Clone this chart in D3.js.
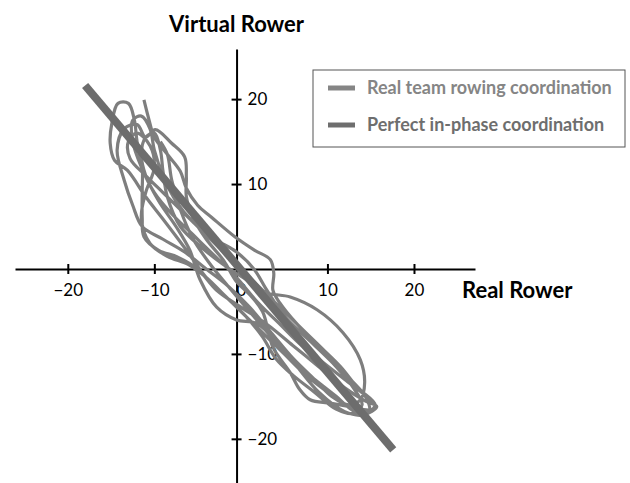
<!DOCTYPE html>
<html>
<head>
<meta charset="utf-8">
<script src="https://cdn.jsdelivr.net/npm/d3@7"></script>
<style>
  body { margin: 0; background: #fff; }
  text { font-family: Lato, "Open Sans", sans-serif; }
</style>
</head>
<body>
<div id="chart"></div>
<script>
// tick values on both axes
const xTicks = [-20, -10, 0, 10, 20];
const yTicks = [-20, -10, 10, 20];

// perfect in-phase line, end points (real, virtual)
const perfectLine = [[-18, 21.6], [17.6, -21.3]];

// real team trajectory (real rower, virtual rower)
const teamPath = [
  // stroke 1
  [-11.2, 19.9], [-10.6, 17.5], [-10, 15.5], [-8.5, 13.5], [-7, 11.5], [-6.3, 9.5], [-5, 7.5],
  [-3.4, 6.1], [-0.7, 3.8], [1.6, 2.2], [3.4, 1.1], [3.8, -0.5], [3.7, -2.5], [4.5, -4],
  [6.5, -6.5], [9, -9], [11.5, -11.5], [13.5, -14], [15.5, -16], [14.5, -17], [12.5, -16.3],
  [10, -14.5], [7.5, -12.5], [5, -10], [2, -7], [-1, -4], [-4, -1], [-6.5, 2.5], [-9.1, 6],
  [-11, 8.5], [-13.1, 11.6], [-14.6, 12.8], [-15.1, 14.8], [-14.9, 17.2], [-14.2, 19.5],
  [-13, 19.5], [-12.3, 17.5],
  // stroke 2
  [-12, 15], [-11.4, 12], [-11.4, 9.3], [-11.4, 6], [-11.2, 3.8], [-9.5, 2.2], [-7.3, 1.4],
  [-5, 0], [-2.8, -2.5], [0, -4.5], [3, -6.5], [6, -9], [9, -11.5], [12, -14], [14.3, -15.5],
  [15.7, -16.2], [14.1, -17.2], [12, -16.8],
  [9, -14.5], [6.5, -11.5], [4.5, -9], [1.8, -6.4], [-0.5, -6], [-2.8, -4.5], [-4.7, -1.3],
  [-5.9, 2.2], [-7.5, 5], [-9.5, 8], [-11, 11], [-11.5, 13.5], [-11, 15.5], [-10, 16], [-9.3, 14],
  // stroke 3
  [-9, 11.5], [-8.5, 8.5], [-7, 5], [-4.5, 2.5], [-2, 0.5], [1, -1.5], [3, -2.8], [5.7, -3.3],
  [8.8, -4.8], [11.8, -7.5], [13.8, -10.7], [14.3, -13.4], [13.8, -15.4], [12.5, -16], [10.5, -15],
  [8.5, -13], [6, -10.5], [3.5, -7.5], [1, -4.5], [-1.5, -2], [-4, 0], [-6.5, 2], [-9, 3.5],
  [-11.4, 5], [-12.5, 7.5], [-13.5, 10.5], [-14.3, 14], [-13.5, 16.5], [-12, 17], [-11, 15.5],
  // stroke 4
  [-9.9, 16.4], [-8, 14.8], [-6.5, 13.2], [-6.3, 10.8], [-6.3, 8.5], [-5.5, 6], [-4, 3.5],
  [-2, 1], [-0.5, -1.5], [1, -3], [2.5, -5], [3.7, -9.2], [5.7, -12.2], [6.8, -14.2], [8, -15.4],
  [10.3, -15.8], [12.6, -16.2], [14.9, -16.6], [15.5, -16.2], [14.5, -15], [12, -13],
  [9.5, -11], [7, -9], [4.5, -6.5], [2, -4], [-0.5, -1], [-3, 1.5], [-5.5, 4], [-8, 6.5],
  [-10, 9], [-11.5, 12], [-12.5, 15], [-12.5, 17.5], [-11.5, 18], [-10.5, 16.5],
  // stroke 5
  [-10, 14], [-9, 11], [-7.5, 8], [-5.5, 5.5], [-3, 3.5], [-0.5, 2], [1.5, 0], [3, -2.5],
  [5, -5.5], [8, -8.5], [11, -11.5], [13, -14], [14, -16], [13, -17], [11, -16.5],
  [8.5, -14.5], [6, -12.5], [4, -10.5], [2.5, -8], [0.5, -5.5], [-2, -3], [-4, -1], [-6, 0.5],
  [-8.5, 1.5], [-10.5, 3], [-11.5, 6], [-11, 9], [-10, 12], [-10.5, 14.5], [-12, 16], [-13, 15],
  // stroke 6
  [-12.8, 13], [-11, 11], [-9, 9], [-7, 7], [-4.5, 4.5], [-2, 2], [0.5, -0.5], [2.5, -2.5],
  [5, -5], [7.5, -7.5], [10, -10], [12.5, -12.8], [14.5, -15.2], [14.8, -16.8], [13.2, -16.8],
  [11, -15], [8.5, -13], [6, -11], [3.5, -8], [1, -5], [-1.5, -2], [-3.5, 0.5], [-5.5, 3.5],
  [-7, 7], [-8, 10.5], [-8.5, 13.5], [-9.3, 15]
];

const legendItems = [
  { label: "Real team rowing coordination", color: "#858585" },
  { label: "Perfect in-phase coordination", color: "#6e6e6e" }
];

const width = 630;
const height = 483;

const xScale = d3.scaleLinear().domain([-26.1, 27.05]).range([15, 475]);
const yScale = d3.scaleLinear().domain([25.9, -25.2]).range([49, 483]);

const svg = d3.select("#chart")
  .append("svg")
  .attr("width", width)
  .attr("height", height);

svg.append("rect").attr("width", width).attr("height", height).attr("fill", "#fff");

// y axis crosses a touch left of zero, as in the original figure
const yCross = -0.5;

const xAxis = svg.append("g")
  .attr("transform", `translate(0, ${yScale(0)})`)
  .call(d3.axisBottom(xScale).tickValues(xTicks).tickSizeInner(5).tickSizeOuter(0));

xAxis.select(".domain").attr("stroke", "#000").attr("stroke-width", 2);
xAxis.selectAll(".tick line").attr("y1", -5).attr("y2", 5).attr("stroke", "#000").attr("stroke-width", 2);
xAxis.selectAll(".tick text")
  .attr("y", 15)
  .attr("fill", "#000")
  .style("font-size", "17px");
xAxis.selectAll(".tick").filter(d => d === 0).select("line").remove();

const yAxis = svg.append("g")
  .attr("transform", `translate(${xScale(yCross)}, 0)`)
  .call(d3.axisRight(yScale).tickValues(yTicks).tickSizeInner(5).tickSizeOuter(0));

yAxis.select(".domain").attr("stroke", "#000").attr("stroke-width", 2);
yAxis.selectAll(".tick line").attr("x1", -5).attr("x2", 5).attr("stroke", "#000").attr("stroke-width", 2);
yAxis.selectAll(".tick text")
  .attr("x", 11)
  .attr("fill", "#000")
  .style("font-size", "17px");

// axis titles
svg.append("text")
  .attr("x", xScale(yCross))
  .attr("y", 32)
  .attr("text-anchor", "middle")
  .style("font-size", "22px")
  .style("font-weight", "bold")
  .text("Virtual Rower");

svg.append("text")
  .attr("x", 462)
  .attr("y", 298)
  .style("font-size", "22px")
  .style("font-weight", "bold")
  .text("Real Rower");

const line = d3.line()
  .x(d => xScale(d[0]))
  .y(d => yScale(d[1]))
  .curve(d3.curveCatmullRom.alpha(0.5));

svg.append("path")
  .datum(teamPath)
  .attr("fill", "none")
  .attr("stroke", "#7e7e7e")
  .attr("stroke-width", 3.2)
  .attr("stroke-linejoin", "round")
  .attr("d", line);

svg.append("path")
  .datum(perfectLine)
  .attr("fill", "none")
  .attr("stroke", "#6d6d6d")
  .attr("stroke-width", 8)
  .attr("d", d3.line().x(d => xScale(d[0])).y(d => yScale(d[1])));

// legend
const legend = svg.append("g").attr("transform", "translate(313, 70)");

legend.append("rect")
  .attr("width", 312)
  .attr("height", 77)
  .attr("fill", "#fff")
  .attr("stroke", "#555")
  .attr("stroke-width", 1);

const rows = legend.selectAll(".row")
  .data(legendItems)
  .enter()
  .append("g")
  .attr("class", "row")
  .attr("transform", (d, i) => `translate(0, ${18 + i * 37})`);

rows.append("line")
  .attr("x1", 15)
  .attr("x2", 42)
  .attr("stroke", d => d.color)
  .attr("stroke-width", 5);

rows.append("text")
  .attr("x", 54)
  .attr("y", 6)
  .attr("fill", d => d.color)
  .style("font-size", "18px")
  .style("font-weight", "bold")
  .text(d => d.label);
</script>
</body>
</html>
